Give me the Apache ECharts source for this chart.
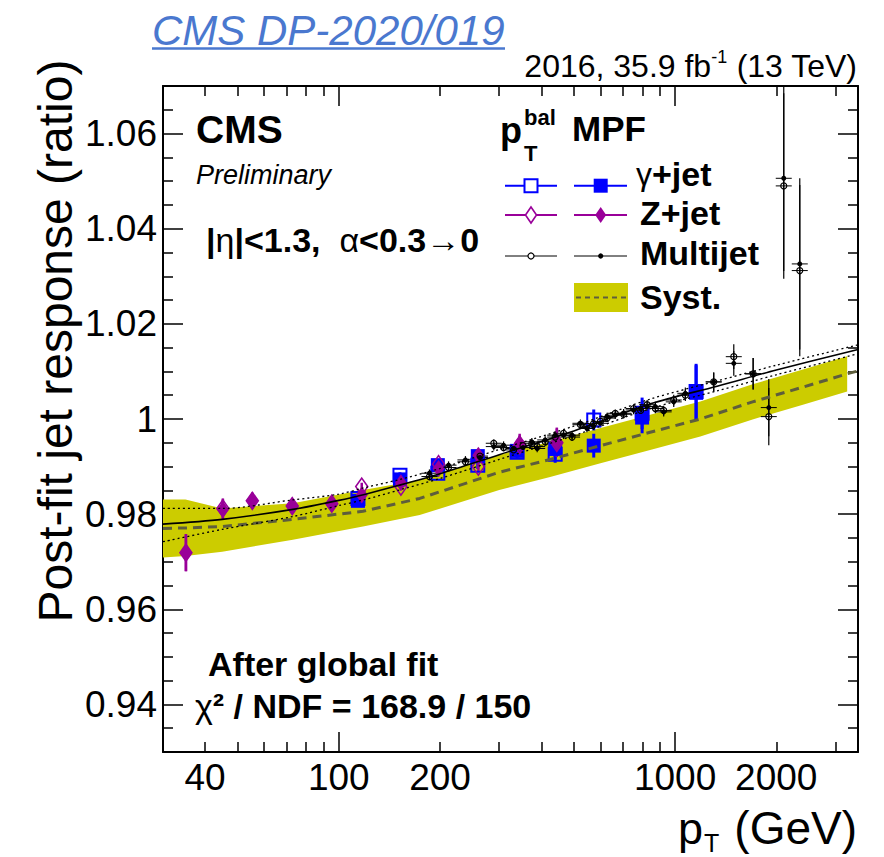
<!DOCTYPE html>
<html><head><meta charset="utf-8">
<script src="https://cdn.jsdelivr.net/npm/echarts@6/dist/echarts.min.js"></script>
<style>html,body{margin:0;padding:0;background:#fff}#c{width:884px;height:857px}</style>
</head><body><div id="c"></div>
<script>
// ---------------- data ----------------
const X_MIN = 30, X_MAX = 3500, Y_MIN = 0.93, Y_MAX = 1.07;
const xLabelValues = [40, 100, 200, 1000, 2000];
const xMajorTicks = [100, 1000];
const xMinorTicks = [40, 50, 60, 70, 80, 90, 200, 300, 400, 500, 600, 700, 800, 900, 2000, 3000];
const yLabelValues = [0.94, 0.96, 0.98, 1.00, 1.02, 1.04, 1.06];
const yMajorTicks = [0.94, 0.96, 0.98, 1.00, 1.02, 1.04, 1.06];
const yMinorTicks = [0.935, 0.945, 0.95, 0.955, 0.965, 0.97, 0.975, 0.985, 0.99, 0.995, 1.005, 1.01, 1.015, 1.025, 1.03, 1.035, 1.045, 1.05, 1.055, 1.065];

// systematic band
const bandPt = [30, 35, 45, 73, 118, 174, 300, 425, 600, 843, 1189, 1700, 2400, 3250];
const bandUp = [0.9831, 0.9831, 0.9812, 0.9823, 0.9851, 0.9872, 0.9925, 0.9952, 0.9981, 1.0009, 1.0037, 1.0073, 1.0104, 1.0132];
const bandLo = [0.9709, 0.9712, 0.9721, 0.9746, 0.9774, 0.9798, 0.9851, 0.9878, 0.9907, 0.9935, 0.9963, 0.9999, 1.0030, 1.0058];
const systPt = [30, 35, 45, 73, 118, 174, 300, 425, 600, 843, 1189, 1700, 2400, 3250, 3500];
const systMid = [0.9770, 0.9771, 0.9774, 0.9789, 0.9806, 0.9833, 0.9888, 0.9915, 0.9944, 0.9972, 1.0000, 1.0036, 1.0067, 1.0095, 1.0101];

// global fit and its uncertainty
const fitPt = [30, 45, 73, 100, 120, 150, 200, 300, 500, 845, 1334, 2000, 3500];
const fitVal = [0.9779, 0.9789, 0.9810, 0.9829, 0.9842, 0.9860, 0.9885, 0.9925, 0.9975, 1.0032, 1.0069, 1.0103, 1.0146];
const fitUp = [0.9812, 0.9812, 0.9830, 0.9842, 0.9856, 0.9872, 0.9896, 0.9936, 0.9985, 1.0042, 1.0080, 1.0113, 1.0156];
const fitLo = [0.9742, 0.9768, 0.9795, 0.9818, 0.9831, 0.9850, 0.9875, 0.9915, 0.9965, 1.0022, 1.0059, 1.0093, 1.0137];

// gamma+jet
const gjPt = [114, 152, 197, 259, 339, 440, 573, 798, 1155];
const gjMPF = [0.9828, 0.9873, 0.9903, 0.9922, 0.9933, 0.9937, 0.9944, 1.0003, 1.0055];
const gjBal = [0.9833, 0.9882, 0.9886, 0.9903, 0.9930, 0.9926, 0.9998, 1.0012, 1.0058];
const gjErrMPF = [0.0005, 0.0006, 0.0007, 0.0008, 0.0012, 0.0022, 0.0025, 0.0033, 0.0058];
const gjErrBal = [0.0005, 0.0006, 0.0007, 0.0008, 0.0012, 0.0018, 0.0022, 0.0033, 0.0058];

// Z+jet
const zjPt = [35.1, 45.2, 55.3, 72.7, 95.3, 117, 153, 198, 260, 345, 445];
const zjMPF = [0.9719, 0.9810, 0.9828, 0.9816, 0.9821, 0.9840, 0.9866, 0.9896, 0.9924, 0.9949, 0.9952];
const zjBal = [0.9719, 0.9812, 0.9828, 0.9817, 0.9822, 0.9858, 0.9858, 0.9905, 0.9900, 0.9945, 0.9950];
const zjErr = [0.0039, 0.0021, 0.0017, 0.0010, 0.0010, 0.0008, 0.0008, 0.0010, 0.0012, 0.0020, 0.0030];

// multijet
const mjPt = [186, 212, 238, 263, 289, 309, 331, 353, 375, 389, 411, 440, 466, 494, 523, 547, 572, 600, 628, 664, 703, 753, 790, 826, 874, 925, 991, 1073, 1303, 1495, 1707, 1900, 2105, 2349];
const mjMPF = [0.9886, 0.9903, 0.9914, 0.9919, 0.9942, 0.9945, 0.9938, 0.9940, 0.9952, 0.9938, 0.9956, 0.9966, 0.9966, 0.9966, 0.9991, 0.9980, 0.9985, 0.9991, 1.0005, 1.0008, 1.0012, 1.0019, 1.0022, 1.0026, 1.0026, 1.0015, 1.0036, 1.0054, 1.0078, 1.0117, 1.0095, 1.0024, 1.0506, 1.0326];
const mjBal = [0.9879, 0.9898, 0.9910, 0.9922, 0.9949, 0.9940, 0.9935, 0.9944, 0.9948, 0.9942, 0.9952, 0.9962, 0.9970, 0.9962, 0.9988, 0.9985, 0.9990, 0.9995, 1.0002, 1.0012, 1.0010, 1.0022, 1.0018, 1.0030, 1.0022, 1.0018, 1.0040, 1.0050, 1.0078, 1.0131, 1.0095, 1.0005, 1.0490, 1.0312];
const mjErr = [0.0008, 0.0008, 0.0008, 0.0008, 0.0008, 0.0008, 0.0008, 0.0008, 0.0008, 0.0008, 0.0008, 0.0008, 0.0008, 0.0008, 0.0008, 0.0008, 0.0008, 0.0008, 0.0008, 0.0008, 0.0009, 0.0009, 0.0009, 0.0010, 0.0010, 0.0010, 0.0011, 0.0012, 0.0020, 0.0026, 0.0033, 0.0060, 0.0195, 0.0180];

// ---------------- styling ----------------
const FONT = "'Liberation Sans', Arial, Helvetica, sans-serif";
const BLUE = '#0000ff', PURPLE = '#990099', YELLOW = '#cccc00', DASH = '#5e5e3c';

const pairs = (xs, ys) => xs.map((x, i) => [x, ys[i]]);
const triples = (xs, ys, es) => xs.map((x, i) => [x, ys[i], es[i]]);

function xAxisDef(position, tickVals, len, showLine, showLabel) {
  return {
    type: 'log', logBase: 10, min: X_MIN, max: X_MAX, position: position,
    axisLine: {show: showLine, onZero: false, lineStyle: {color: '#000', width: 2}},
    axisTick: {show: true, inside: true, length: len, customValues: tickVals, lineStyle: {color: '#000', width: 1.5}},
    axisLabel: {show: showLabel, customValues: xLabelValues, color: '#000', fontSize: 37, fontFamily: FONT, margin: 7,
      formatter: v => String(Math.round(+v))},
    splitLine: {show: false}, minorTick: {show: false}, minorSplitLine: {show: false}
  };
}
function yAxisDef(position, tickVals, len, showLine, showLabel) {
  return {
    type: 'value', min: Y_MIN, max: Y_MAX, position: position,
    axisLine: {show: showLine, onZero: false, lineStyle: {color: '#000', width: 2}},
    axisTick: {show: true, inside: true, length: len, customValues: tickVals, lineStyle: {color: '#000', width: 1.5}},
    axisLabel: {show: showLabel, customValues: yLabelValues, color: '#000', fontSize: 37, fontFamily: FONT, margin: 6,
      formatter: v => String(+(+v).toFixed(2))},
    splitLine: {show: false}
  };
}

function errBarSeries(name, xs, ys, es, color, width, capHalf) {
  return {
    type: 'custom', name: name, silent: true, clip: true,
    data: triples(xs, ys, es),
    renderItem: function (params, api) {
      const x = api.value(0), y = api.value(1), e = api.value(2);
      const p1 = api.coord([x, y - e]), p2 = api.coord([x, y + e]), c = api.coord([x, y]);
      const children = [{type: 'line', shape: {x1: p1[0], y1: p1[1], x2: p2[0], y2: p2[1]}, style: {stroke: color, lineWidth: width}}];
      if (capHalf) children.push({type: 'line', shape: {x1: c[0] - capHalf, y1: c[1], x2: c[0] + capHalf, y2: c[1]}, style: {stroke: color, lineWidth: 1}});
      return {type: 'group', children: children};
    }
  };
}
function markerSeries(name, xs, ys, symbol, size, fill, stroke, bw) {
  return {
    type: 'scatter', name: name, silent: true, symbol: symbol, symbolSize: size,
    data: pairs(xs, ys),
    itemStyle: {color: fill, borderColor: stroke, borderWidth: bw, opacity: 1},
    emphasis: {disabled: true}
  };
}

const series = [
  { // systematic band
    type: 'custom', name: 'Syst.', silent: true, clip: true,
    data: [[bandPt[0], bandUp[0]]],
    renderItem: function (params, api) {
      const pts = [];
      for (let i = 0; i < bandPt.length; i++) pts.push(api.coord([bandPt[i], bandUp[i]]));
      for (let i = bandPt.length - 1; i >= 0; i--) pts.push(api.coord([bandPt[i], bandLo[i]]));
      return {type: 'polygon', shape: {points: pts}, style: {fill: YELLOW}};
    }
  },
  {type: 'line', name: 'Syst. centre', data: pairs(systPt, systMid), showSymbol: false, silent: true,
    lineStyle: {color: DASH, width: 3, type: [9, 6]}},
  {type: 'line', name: 'Fit', data: pairs(fitPt, fitVal), showSymbol: false, silent: true, smooth: 0.3,
    lineStyle: {color: '#000', width: 1.6}},
  {type: 'line', name: 'Fit up', data: pairs(fitPt, fitUp), showSymbol: false, silent: true, smooth: 0.3,
    lineStyle: {color: '#000', width: 1.3, type: [2, 3]}},
  {type: 'line', name: 'Fit down', data: pairs(fitPt, fitLo), showSymbol: false, silent: true, smooth: 0.3,
    lineStyle: {color: '#000', width: 1.3, type: [2, 3]}},
  errBarSeries('γ+jet bal err', gjPt, gjBal, gjErrBal, BLUE, 3, 0),
  markerSeries('γ+jet pTbal', gjPt, gjBal, 'rect', 13, 'rgba(0,0,0,0)', BLUE, 2),
  errBarSeries('γ+jet MPF err', gjPt, gjMPF, gjErrMPF, BLUE, 3, 0),
  markerSeries('γ+jet MPF', gjPt, gjMPF, 'rect', 14, BLUE, BLUE, 0),
  errBarSeries('Z+jet bal err', zjPt, zjBal, zjErr, PURPLE, 2.5, 0),
  markerSeries('Z+jet pTbal', zjPt, zjBal, 'diamond', [12, 17], 'rgba(0,0,0,0)', PURPLE, 1.6),
  errBarSeries('Z+jet MPF err', zjPt, zjMPF, zjErr, PURPLE, 2.5, 0),
  markerSeries('Z+jet MPF', zjPt, zjMPF, 'diamond', [12, 17], PURPLE, PURPLE, 0),
  errBarSeries('Multijet bal err', mjPt, mjBal, mjErr, '#000', 1.2, 8),
  markerSeries('Multijet pTbal', mjPt, mjBal, 'circle', 6, 'rgba(0,0,0,0)', '#000', 1.2),
  errBarSeries('Multijet MPF err', mjPt, mjMPF, mjErr, '#000', 1.2, 8),
  markerSeries('Multijet MPF', mjPt, mjMPF, 'circle', 5, '#000', '#000', 0)
];

// ---------------- annotations & legend ----------------
function txt(x, y, text, font, opts) {
  return Object.assign({type: 'text', silent: true, z: 100,
    style: Object.assign({x: x, y: y, text: text, font: font, fill: '#000', align: 'left', verticalAlign: 'middle'}, opts || {})});
}
function hline(x1, x2, y, color, w, dash) {
  return {type: 'line', silent: true, z: 100, shape: {x1: x1, y1: y, x2: x2, y2: y},
    style: {stroke: color, lineWidth: w, lineDash: dash || null}};
}
const LX1 = 531, LX2 = 600.7;
const graphic = [
  txt(152, 30, 'CMS DP-2020/019', 'italic 42px ' + FONT, {fill: '#4a78cf'}),
  hline(152, 505, 48.5, '#4a78cf', 2.5),
  {type: 'text', silent: true, z: 100, style: {x: 857, y: 65, align: 'right', verticalAlign: 'middle', font: '32px ' + FONT, fill: '#000',
    text: '{n|2016, 35.9 fb}{s|-1}{n| (13 TeV)}',
    rich: {n: {font: '32px ' + FONT, lineHeight: 34, verticalAlign: 'bottom'}, s: {font: '18px ' + FONT, lineHeight: 34, verticalAlign: 'top'}}}},
  txt(196, 129, 'CMS', 'bold 39px ' + FONT),
  txt(196, 175, 'Preliminary', 'italic 27px ' + FONT),
  {type: 'text', silent: true, z: 100, style: {x: 206, y: 240, align: 'left', verticalAlign: 'middle', fill: '#000',
    text: '{b||}{g|η}{b||<1.3,  }{g|α}{b|<0.3}{g|→}{b|0}',
    rich: {b: {font: 'bold 34px ' + FONT}, g: {font: '34px ' + FONT}}}},
  txt(208, 664, 'After global fit', 'bold 34px ' + FONT),
  {type: 'text', silent: true, z: 100, style: {x: 195, y: 706, align: 'left', verticalAlign: 'middle', fill: '#000',
    text: '{g|χ}{b|² / NDF = 168.9 / 150}',
    rich: {b: {font: 'bold 34px ' + FONT}, g: {font: '34px ' + FONT}}}},
  // axis titles
  {type: 'text', silent: true, z: 100, x: 55, y: 341, rotation: Math.PI / 2,
    style: {x: 0, y: 0, text: 'Post-fit jet response (ratio)', font: '48px ' + FONT, fill: '#000', align: 'center', verticalAlign: 'middle'}},
  txt(857, 828, '(GeV)', '46px ' + FONT, {align: 'right'}),
  txt(678, 828, 'p', '45px ' + FONT),
  txt(704, 843, 'T', '25px ' + FONT),
  // legend header
  txt(500, 130, 'p', 'bold 36px ' + FONT),
  txt(524, 117, 'bal', 'bold 22px ' + FONT),
  txt(524, 153, 'T', 'bold 22px ' + FONT),
  txt(572, 128, 'MPF', 'bold 35px ' + FONT),
  // gamma+jet row
  hline(505, 557, 185.7, BLUE, 2), hline(574, 627, 185.7, BLUE, 2),
  {type: 'rect', silent: true, z: 101, shape: {x: LX1 - 6.5, y: 179.2, width: 13, height: 13}, style: {fill: '#fff', stroke: BLUE, lineWidth: 2}},
  {type: 'rect', silent: true, z: 101, shape: {x: LX2 - 7, y: 178.7, width: 14, height: 14}, style: {fill: BLUE}},
  {type: 'text', silent: true, z: 100, style: {x: 636, y: 174, align: 'left', verticalAlign: 'middle', fill: '#000',
    text: '{g|γ}{b|+jet}', rich: {b: {font: 'bold 34px ' + FONT}, g: {font: '32px ' + FONT}}}},
  // Z+jet row
  hline(505, 557, 215, PURPLE, 2), hline(574, 627, 215, PURPLE, 2),
  {type: 'polygon', silent: true, z: 101, shape: {points: [[LX1, 207], [LX1 + 5.5, 215], [LX1, 223], [LX1 - 5.5, 215]]}, style: {fill: '#fff', stroke: PURPLE, lineWidth: 1.6}},
  {type: 'polygon', silent: true, z: 101, shape: {points: [[LX2, 207], [LX2 + 5.5, 215], [LX2, 223], [LX2 - 5.5, 215]]}, style: {fill: PURPLE}},
  txt(640, 213, 'Z+jet', 'bold 34px ' + FONT),
  // multijet row
  hline(505, 557, 256, '#000', 1), hline(574, 627, 256, '#000', 1),
  {type: 'circle', silent: true, z: 101, shape: {cx: LX1, cy: 256, r: 3}, style: {fill: '#fff', stroke: '#000', lineWidth: 1.2}},
  {type: 'circle', silent: true, z: 101, shape: {cx: LX2, cy: 256, r: 2.6}, style: {fill: '#000'}},
  txt(640, 253, 'Multijet', 'bold 34px ' + FONT),
  // syst row
  {type: 'rect', silent: true, z: 100, shape: {x: 574, y: 283, width: 54, height: 29}, style: {fill: YELLOW}},
  hline(576, 626, 297.5, DASH, 2, [5, 4]),
  txt(640, 297, 'Syst.', 'bold 34px ' + FONT)
];

const chart = echarts.init(document.getElementById('c'), null, {renderer: 'svg', width: 884, height: 857});
chart.setOption({
  animation: false,
  backgroundColor: '#fff',
  grid: {left: 163, top: 86, width: 695, height: 666, containLabel: false},
  xAxis: [xAxisDef('bottom', xMinorTicks, 10, true, true), xAxisDef('bottom', xMajorTicks, 20, false, false),
          xAxisDef('top', xMinorTicks, 10, true, false), xAxisDef('top', xMajorTicks, 20, false, false)],
  yAxis: [yAxisDef('left', yMinorTicks, 10, true, true), yAxisDef('left', yMajorTicks, 20, false, false),
          yAxisDef('right', yMinorTicks, 10, true, false), yAxisDef('right', yMajorTicks, 20, false, false)],
  series: series,
  graphic: graphic
});
</script></body></html>
